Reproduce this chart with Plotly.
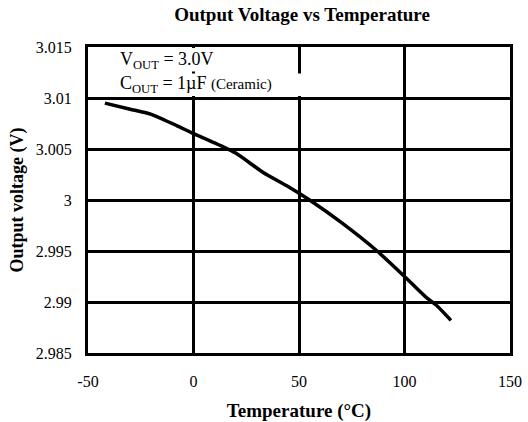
import plotly.graph_objects as go

temps = [-42, -30, -20, -8, 0, 10, 20, 33, 45, 55, 70, 87, 100, 110, 115, 122]
volts = [3.0095, 3.0089, 3.0084, 3.0073, 3.0065, 3.0056, 3.0046, 3.0027,
         3.0013, 3.0000, 2.9978, 2.9950, 2.9925, 2.9905, 2.9897, 2.9882]

x_ticks = [-50, 0, 50, 100, 150]
x_labels = ["-50", "0", "50", "100", "150"]
y_ticks = [2.985, 2.99, 2.995, 3.0, 3.005, 3.01, 3.015]
y_labels = ["2.985", "2.99", "2.995", "3", "3.005", "3.01", "3.015"]

title = "Output Voltage vs Temperature"
x_title = "Temperature (°C)"
y_title = "Output voltage (V)"
note1 = "V<sub>OUT</sub> = 3.0V"
note2 = "C<sub>OUT</sub> = 1µF <span style='font-size:15px'>(Ceramic)</span>"

FONT = "Liberation Serif, Times New Roman, serif"

fig = go.Figure()
fig.add_trace(go.Scatter(x=temps, y=volts, mode="lines",
                         line=dict(color="black", width=3.5, shape="spline", smoothing=0.5),
                         showlegend=False, hoverinfo="skip"))

fig.update_layout(
    width=528, height=422,
    margin=dict(l=88, r=18, t=47, b=69, autoexpand=False),
    paper_bgcolor="white", plot_bgcolor="white",
    font=dict(family=FONT, color="black", size=16),
    title=dict(text="<b>" + title + "</b>", x=0.572, xanchor="center", y=0.967, yanchor="middle",
               xref="container", yref="container",
               font=dict(family=FONT, size=19, color="black")),
    xaxis=dict(range=[-50, 150], tickvals=x_ticks, ticktext=x_labels, showgrid=True,
               gridcolor="black", gridwidth=3,
               showline=True, linecolor="black", linewidth=3, mirror=True, zeroline=False,
               ticks="", ticklabelstandoff=12, tickfont=dict(size=16), automargin=False,
               title=dict(text="<b>" + x_title + "</b>", standoff=16, font=dict(size=19))),
    yaxis=dict(range=[2.985, 3.015], tickvals=y_ticks, ticktext=y_labels, showgrid=True,
               gridcolor="black", gridwidth=3, showline=True, linecolor="black", linewidth=3,
               mirror=True, zeroline=False, ticks="", ticklabelstandoff=10, tickfont=dict(size=16),
               automargin=False,
               title=dict(text="<b>" + y_title + "</b>", standoff=8, font=dict(size=18))),
)

fig.add_shape(type="rect", xref="x", yref="y", x0=-48.5, x1=47, y0=3.0126, y1=3.0149,
              fillcolor="white", line=dict(width=0), layer="between")
fig.add_shape(type="rect", xref="x", yref="y", x0=-48.5, x1=51.5, y0=3.0102, y1=3.0124,
              fillcolor="white", line=dict(width=0), layer="between")

fig.add_annotation(x=-36, y=3.0137, xref="x", yref="y", text=note1, showarrow=False,
                   xanchor="left", yanchor="middle", font=dict(size=18))
fig.add_annotation(x=-36, y=3.0113, xref="x", yref="y", text=note2, showarrow=False,
                   xanchor="left", yanchor="middle", font=dict(size=18))

# remove the default 8px page margin so the 528x422 figure fills the window exactly
fig.write_html("out.html", config={"displayModeBar": False},
               post_script="document.body.style.margin='0';")
